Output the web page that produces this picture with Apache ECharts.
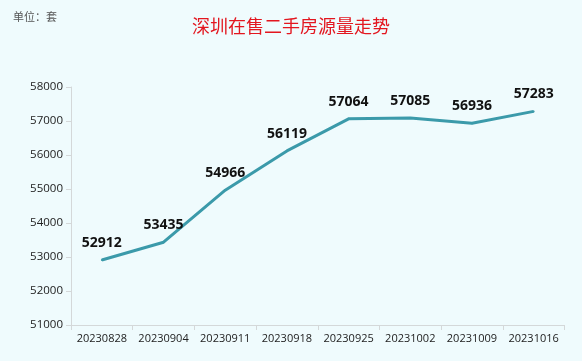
<!DOCTYPE html>
<html><head><meta charset="utf-8">
<script src="https://cdn.jsdelivr.net/npm/echarts@6/dist/echarts.min.js"></script>
<style>html,body{margin:0;padding:0;background:#effbfd}#c{width:582px;height:361px}</style>
</head><body><div id="c"></div>
<script>
const categories=['20230828','20230904','20230911','20230918','20230925','20231002','20231009','20231016'];
const values=[52912,53435,54966,56119,57064,57085,56936,57283];
const yTicks={min:51000,max:58000,interval:1000};
const chart=echarts.init(document.getElementById('c'));
chart.setOption({
  backgroundColor:'#effbfd',
  animation:false,
  title:[{text:'深圳在售二手房源量走势',left:'center',top:12,textStyle:{color:'#e3161f',fontSize:18,fontWeight:'normal',fontFamily:'Noto Sans CJK SC'}},
         {text:'单位：套',left:8,top:6,textStyle:{color:'#555',fontSize:11,fontWeight:'normal',fontFamily:'Noto Sans CJK SC'}}],
  grid:{left:71,right:17.5,top:87,bottom:36},
  xAxis:{type:'category',data:categories,boundaryGap:true,
    axisLine:{lineStyle:{color:'#d4d8d9'}},axisTick:{show:true,lineStyle:{color:'#d4d8d9'},length:5},
    axisLabel:{color:'#222',fontSize:11,interval:0,fontFamily:'Open Sans',margin:8}},
  yAxis:{type:'value',min:yTicks.min,max:yTicks.max,interval:yTicks.interval,
    axisLine:{show:true,lineStyle:{color:'#d4d8d9'}},axisTick:{show:true,length:5,lineStyle:{color:'#d4d8d9'}},
    splitLine:{show:false},axisLabel:{color:'#222',fontSize:11.5,fontFamily:'Open Sans',margin:8,formatter:v=>String(v)}},
  series:[{type:'line',data:values,symbol:'circle',symbolSize:2,showSymbol:true,itemStyle:{color:'#3b9aaa'},lineStyle:{color:'#3b9aaa',width:3},
    label:{show:true,position:'top',distance:9,color:'#111',fontWeight:'bold',fontSize:14,fontFamily:'Open Sans'}}]
});
</script></body></html>
